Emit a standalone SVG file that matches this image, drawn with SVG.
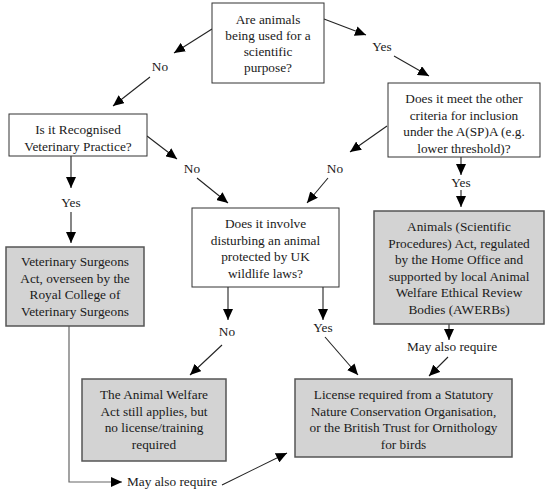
<svg xmlns="http://www.w3.org/2000/svg" width="550" height="497" viewBox="0 0 550 497">
<style>
text{font-family:"Liberation Serif","Times New Roman",serif;font-size:13.3px;fill:#1a1a1a;text-anchor:middle}
.w{fill:#fff;stroke:#333;stroke-width:1}
.g{fill:#d3d3d3;stroke:#555;stroke-width:1.5}
.c{stroke:#222;stroke-width:1.1;fill:none}
.cg{stroke:#666;stroke-width:1.2;fill:none}
</style>
<defs>
<marker id="ah" markerUnits="userSpaceOnUse" markerWidth="12" markerHeight="10" refX="11" refY="5" orient="auto">
<path d="M0,0 L11,5 L0,10 Z" fill="#000"/>
</marker>
</defs>
<rect width="550" height="497" fill="#fff"/>
<g id="connectors">
<line class="c" x1="212" y1="29" x2="174" y2="53" marker-end="url(#ah)"/>
<line class="c" x1="150" y1="77" x2="113" y2="106" marker-end="url(#ah)"/>
<line class="c" x1="324" y1="19" x2="366" y2="35" marker-end="url(#ah)"/>
<line class="c" x1="394" y1="56" x2="429" y2="76" marker-end="url(#ah)"/>
<line class="c" x1="147" y1="136" x2="177" y2="159" marker-end="url(#ah)"/>
<line class="c" x1="197" y1="178" x2="228" y2="203" marker-end="url(#ah)"/>
<line class="c" x1="387" y1="126" x2="350" y2="152" marker-end="url(#ah)"/>
<line class="c" x1="328" y1="178" x2="307" y2="203" marker-end="url(#ah)"/>
<line class="c" x1="71" y1="156" x2="71" y2="188" marker-end="url(#ah)"/>
<line class="c" x1="71" y1="212" x2="71" y2="243" marker-end="url(#ah)"/>
<line class="c" x1="461" y1="157" x2="461" y2="175" marker-end="url(#ah)"/>
<line class="c" x1="461" y1="190" x2="461" y2="207" marker-end="url(#ah)"/>
<line class="c" x1="228" y1="287" x2="228" y2="320" marker-end="url(#ah)"/>
<line class="c" x1="222" y1="345" x2="190" y2="375" marker-end="url(#ah)"/>
<line class="c" x1="323" y1="287" x2="323" y2="320" marker-end="url(#ah)"/>
<line class="c" x1="325" y1="337" x2="358" y2="375" marker-end="url(#ah)"/>
<line class="c" x1="449" y1="324" x2="449" y2="340" marker-end="url(#ah)"/>
<line class="c" x1="448" y1="357" x2="429" y2="376" marker-end="url(#ah)"/>
<polyline class="cg" points="69,326 69,482 122,482" marker-end="url(#ah)"/>
<line class="c" x1="222" y1="485" x2="287" y2="453" marker-end="url(#ah)"/>
</g>
<g id="labels">
<text x="160" y="71">No</text>
<text x="382" y="51">Yes</text>
<text x="192" y="173">No</text>
<text x="335" y="173">No</text>
<text x="71" y="207">Yes</text>
<text x="461" y="187">Yes</text>
<text x="227" y="336">No</text>
<text x="323" y="332">Yes</text>
<text x="452" y="351">May also require</text>
<text x="127" y="486" style="text-anchor:start">May also require</text>
</g>
<g id="q1">
<rect class="w" x="212" y="3" width="112" height="80"/>
<text x="268" y="24">Are animals</text>
<text x="268" y="40">being used for a</text>
<text x="268" y="56">scientific</text>
<text x="268" y="72">purpose?</text>
</g>
<g id="q2">
<rect class="w" x="9" y="114" width="138" height="42"/>
<text x="78" y="133.5">Is it Recognised</text>
<text x="78" y="151">Veterinary Practice?</text>
</g>
<g id="q3">
<rect class="w" x="388" y="83" width="152" height="74"/>
<text x="464" y="103">Does it meet the other</text>
<text x="464" y="119.5">criteria for inclusion</text>
<text x="464" y="136">under the A(SP)A (e.g.</text>
<text x="464" y="152.5">lower threshold)?</text>
</g>
<g id="q4">
<rect class="w" x="192" y="208" width="147" height="79"/>
<text x="265.5" y="228">Does it involve</text>
<text x="265.5" y="244.5">disturbing an animal</text>
<text x="265.5" y="261">protected by UK</text>
<text x="265.5" y="277.5">wildlife laws?</text>
</g>
<g id="vsa">
<rect class="g" x="6" y="247" width="138" height="79"/>
<text x="75" y="266">Veterinary Surgeons</text>
<text x="75" y="282.5">Act, overseen by the</text>
<text x="75" y="299">Royal College of</text>
<text x="75" y="315.5">Veterinary Surgeons</text>
</g>
<g id="aspa">
<rect class="g" x="374" y="211" width="170" height="113"/>
<text x="459" y="231">Animals (Scientific</text>
<text x="459" y="247.5">Procedures) Act, regulated</text>
<text x="459" y="264">by the Home Office and</text>
<text x="459" y="280.5">supported by local Animal</text>
<text x="459" y="297">Welfare Ethical Review</text>
<text x="459" y="313.5">Bodies (AWERBs)</text>
</g>
<g id="awa">
<rect class="g" x="82" y="379" width="144" height="82"/>
<text x="154" y="398.5">The Animal Welfare</text>
<text x="154" y="415.5">Act still applies, but</text>
<text x="154" y="432">no license/training</text>
<text x="154" y="448.5">required</text>
</g>
<g id="license">
<rect class="g" x="295" y="379" width="217" height="78"/>
<text x="403.5" y="398.5">License required from a Statutory</text>
<text x="403.5" y="415.5">Nature Conservation Organisation,</text>
<text x="403.5" y="432">or the British Trust for Ornithology</text>
<text x="403.5" y="448.5">for birds</text>
</g>
</svg>
